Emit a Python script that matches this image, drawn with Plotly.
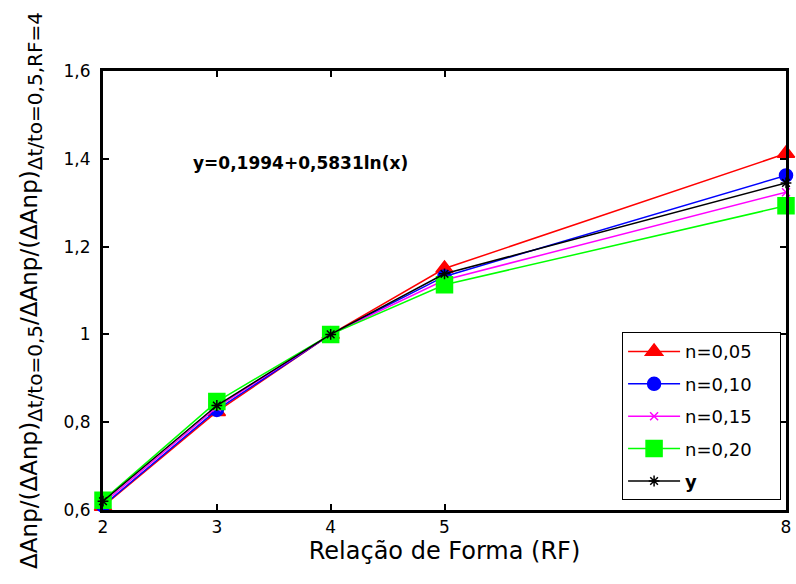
import plotly.graph_objects as go

# Relação de Forma (RF) values on the x axis
rf = [2, 3, 4, 5, 8]

# normalised ΔAnp for each exponent n, plus the fitted curve y
n005 = [0.608, 0.824, 1.000, 1.150, 1.412]
n010 = [0.610, 0.828, 1.000, 1.132, 1.362]
n015 = [0.615, 0.834, 1.000, 1.124, 1.324]
n020 = [0.622, 0.847, 1.000, 1.113, 1.293]
y_fit = [0.620, 0.838, 1.000, 1.138, 1.345]

x_ticks = [2, 3, 4, 5, 8]
y_ticks = [0.6, 0.8, 1.0, 1.2, 1.4, 1.6]
y_tick_text = ["0,6", "0,8", "1", "1,2", "1,4", "1,6"]

FONT = "DejaVu Sans, Liberation Sans, Arial"
PAD = "&nbsp;&nbsp;&nbsp;&nbsp;"  # right padding inside the legend box

series = [
    ("n=0,05", n005, "#ff0000", "triangle-up", 15),
    ("n=0,10", n010, "#0000ff", "circle", 13),
    ("n=0,15", n015, "#ff00ff", "x-thin", 8),
    ("n=0,20", n020, "#00ff00", "square", 16),
    ("<b>y</b>", y_fit, "#000000", "asterisk", 9),
]

fig = go.Figure()
for i, (name, vals, color, symbol, size) in enumerate(series):
    fig.add_trace(go.Scatter(
        x=rf, y=vals, name=name + PAD, mode="lines+markers",
        legendgroup=f"g{i}",
        line=dict(color=color, width=1.5),
        marker=dict(symbol=symbol, size=size, color=color,
                    line=dict(color=color, width=1.5)),
        cliponaxis=False,
    ))

axis_common = dict(
    showline=True, linecolor="black", linewidth=3, mirror="ticks",
    ticks="inside", ticklen=6, tickwidth=2, tickcolor="black",
    showgrid=False, zeroline=False,
    tickfont=dict(family=FONT, size=17, color="black"),
)

fig.update_xaxes(
    range=[2, 8], tickvals=x_ticks, ticktext=[str(v) for v in x_ticks],
    title=dict(text="Relação de Forma (RF)", standoff=6,
               font=dict(family=FONT, size=24, color="black")),
    **axis_common,
)

sub = '<sub><span style="font-size:20px">{}</span></sub>'
y_title = ("ΔAnp/(ΔAnp)" + sub.format("Δt/to=0,5")
           + "/ΔAnp/(ΔAnp)" + sub.format("Δt/to=0,5,RF=4"))
fig.update_yaxes(
    range=[0.6, 1.6], tickvals=y_ticks, ticktext=y_tick_text,
    ticklabelstandoff=6,
    title=dict(text=y_title, standoff=20,
               font=dict(family=FONT, size=23, color="black")),
    **axis_common,
)

fig.add_annotation(
    x=0.289, y=0.79, xref="paper", yref="paper",
    xanchor="center", yanchor="middle",
    text="<b>y=0,1994+0,5831ln(x)</b>", showarrow=False,
    font=dict(family=FONT, size=17, color="black"),
)

fig.update_layout(
    width=796, height=584,
    margin=dict(l=103, r=5, t=71, b=74),
    paper_bgcolor="white", plot_bgcolor="white",
    showlegend=True,
    legend=dict(
        x=0.76, y=0.405, xanchor="left", yanchor="top",
        bgcolor="white", bordercolor="black", borderwidth=1,
        font=dict(family=FONT, size=18, color="black"),
        itemwidth=52, tracegroupgap=6,
    ),
)

fig.write_html("out.html")
